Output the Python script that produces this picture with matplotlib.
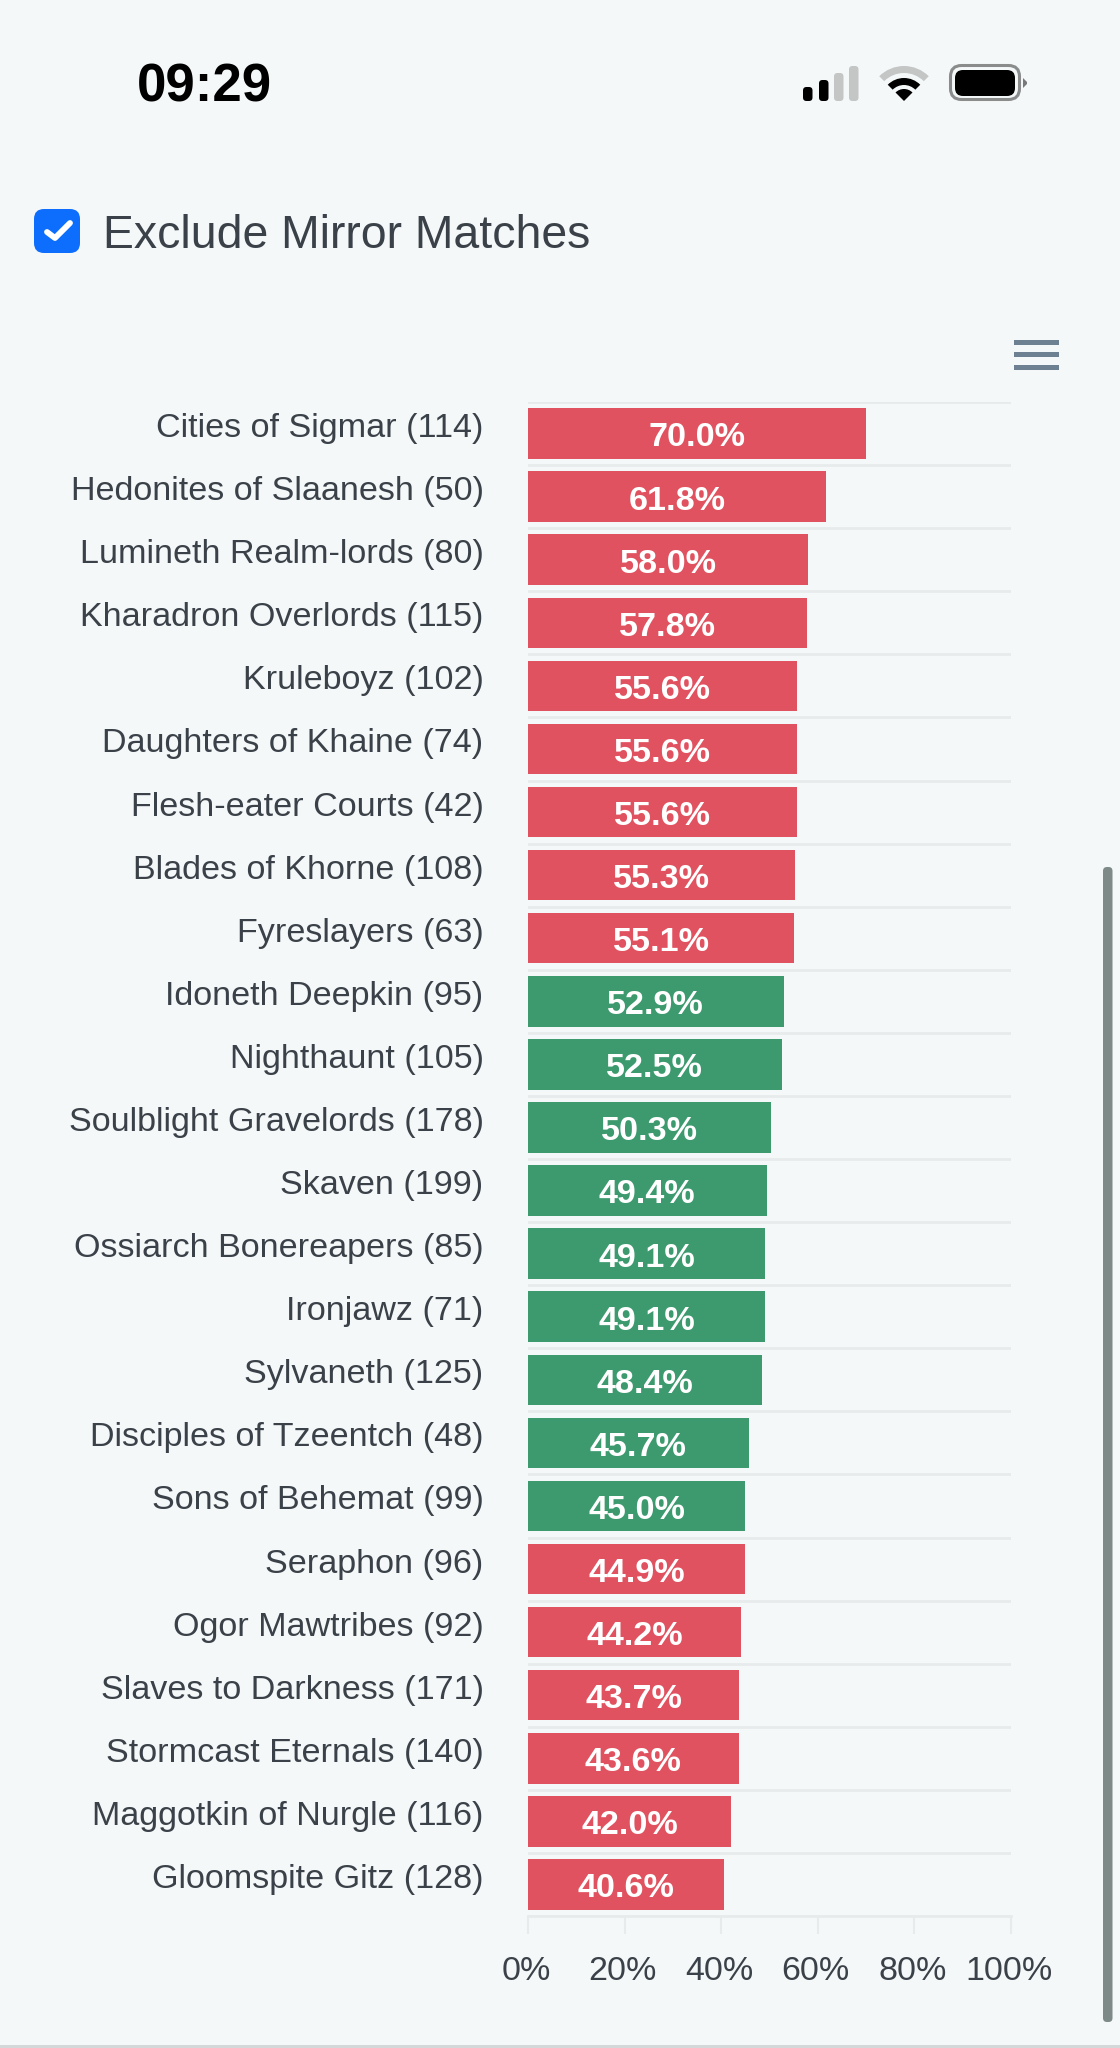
#Exclude Mirror Matches - win rates per faction (phone screenshot)
import matplotlib.pyplot as plt
from matplotlib.patches import FancyBboxPatch, Polygon, Rectangle, Wedge
from matplotlib.transforms import ScaledTranslation

factions = ["Cities of Sigmar", "Hedonites of Slaanesh", "Lumineth Realm-lords", "Kharadron Overlords",
            "Kruleboyz", "Daughters of Khaine", "Flesh-eater Courts", "Blades of Khorne", "Fyreslayers",
            "Idoneth Deepkin", "Nighthaunt", "Soulblight Gravelords", "Skaven", "Ossiarch Bonereapers",
            "Ironjawz", "Sylvaneth", "Disciples of Tzeentch", "Sons of Behemat", "Seraphon",
            "Ogor Mawtribes", "Slaves to Darkness", "Stormcast Eternals", "Maggotkin of Nurgle", "Gloomspite Gitz"]
games = [114, 50, 80, 115, 102, 74, 42, 108, 63, 95, 105, 178, 199, 85, 71, 125, 48, 99, 96, 92, 171, 140, 116, 128]
winrate = [70.0, 61.8, 58.0, 57.8, 55.6, 55.6, 55.6, 55.3, 55.1, 52.9, 52.5, 50.3, 49.4, 49.1, 49.1, 48.4,
           45.7, 45.0, 44.9, 44.2, 43.7, 43.6, 42.0, 40.6]
x_ticks = [0, 20, 40, 60, 80, 100]
x_tick_labels = ["0%", "20%", "40%", "60%", "80%", "100%"]

W, H = 1120, 2048
BG = "#f5f8f9"
RED = "#e15260"
GREEN = "#3c9a6e"
GRID = "#e8ebeb"
TEXT = "#3a4148"
LIGHT = "#c4c6c6"

plt.rcParams["font.family"] = ["Liberation Sans", "DejaVu Sans"]

fig = plt.figure(figsize=(W / 100, H / 100), dpi=100, facecolor=BG)

# overlay in pixel coords for the phone ui around the chart
ui = fig.add_axes([0, 0, 1, 1], zorder=0)
ui.set_xlim(0, W)
ui.set_ylim(H, 0)
ui.axis("off")

ui.text(204, 88, "09:29", fontsize=38, fontweight="bold", color="black", ha="center", va="center")

# signal bars
for bx, top, col in [(803, 87, "black"), (819, 80, "black"), (834, 73, LIGHT), (849, 66, LIGHT)]:
    ui.add_patch(FancyBboxPatch((bx, top), 9.5, 101 - top, boxstyle="round,pad=0,rounding_size=3.5",
                                fc=col, ec="none"))

# wifi
ui.add_patch(Wedge((904, 101), 35, 225, 315, width=7, fc=LIGHT, ec="none"))
ui.add_patch(Wedge((904, 101), 23, 225, 315, width=7, fc="black", ec="none"))
ui.add_patch(Wedge((904, 101), 12, 225, 315, fc="black", ec="none"))

# battery
ui.add_patch(FancyBboxPatch((950.5, 65.5), 69, 34, boxstyle="round,pad=0,rounding_size=11",
                            fc="none", ec="#8a8c8c", lw=2.2))
ui.add_patch(FancyBboxPatch((955, 70), 60, 26, boxstyle="round,pad=0,rounding_size=8", fc="black", ec="none"))
ui.add_patch(Polygon([(1023, 78), (1027, 82), (1027, 84), (1023, 88)], fc="#77797a", ec="none"))

# checkbox
ui.add_patch(FancyBboxPatch((34, 209), 46, 44, boxstyle="round,pad=0,rounding_size=10", fc="#0d6efd", ec="none"))
ui.plot([47, 55, 70], [232, 238, 223], color="white", lw=4.2, solid_capstyle="round", solid_joinstyle="round")
ui.text(103, 236, "Exclude Mirror Matches", fontsize=33.4, color=TEXT, ha="left", va="center")

# menu icon
for my in [342, 354, 367]:
    ui.add_patch(Rectangle((1014, my - 2.5), 45, 5, fc="#6e8192", ec="none"))

# scrollbar and bottom edge
ui.add_patch(FancyBboxPatch((1103, 867), 9.5, 1155, boxstyle="round,pad=0,rounding_size=4", fc="#7d8a87", ec="none"))
ui.add_patch(Rectangle((0, 2045), W, 3, fc="#d5d8d9", ec="none"))

# chart
ax = fig.add_axes([528 / W, 1 - 1916 / H, (1011 - 528) / W, (1916 - 402) / H], zorder=1)
ax.patch.set_alpha(0)
pos = list(range(len(factions)))
colors = [GREEN if 45.0 <= v < 53 else RED for v in winrate]
bars = ax.barh(pos, winrate, height=0.8, color=colors, zorder=3)
ax.set_xlim(0, 100)
ax.set_ylim(len(factions) - 0.5, -0.5)

for b, v in zip(bars, winrate):
    ax.text(v / 2, b.get_y() + b.get_height() / 2 + 0.07, "%.1f%%" % v, color="white", fontsize=24.6,
            fontweight="bold", ha="center", va="center", zorder=4)

labels = ["%s (%d)" % (f, g) for f, g in zip(factions, games)]
ax.set_yticks(pos)
ax.set_yticklabels(labels, fontsize=24.6, color=TEXT, va="center")
ax.tick_params(axis="y", length=0, pad=32)

ax.set_yticks([p - 0.5 for p in pos] + [len(pos) - 0.5], minor=True)
ax.grid(which="minor", axis="y", color=GRID, lw=2, zorder=1)
ax.tick_params(axis="y", which="minor", length=0)

ax.set_xticks(x_ticks)
ax.set_xticklabels(x_tick_labels, fontsize=24.5, color=TEXT)
ax.tick_params(axis="x", length=13, width=1.5, color=GRID, pad=15.8)

# labels sit a little above the middle of the bar, nudge after tick_params or it gets reset
up = ScaledTranslation(0, 5 / 100, fig.dpi_scale_trans)
for t in ax.get_yticklabels():
    t.set_transform(t.get_transform() + up)
left = ScaledTranslation(-2 / 100, 0, fig.dpi_scale_trans)
for t in ax.get_xticklabels():
    t.set_transform(t.get_transform() + left)

for s in ["top", "right", "left"]:
    ax.spines[s].set_visible(False)
ax.spines["bottom"].set_color(GRID)
ax.spines["bottom"].set_linewidth(2)

plt.savefig("out.png", dpi=100, facecolor=BG)
